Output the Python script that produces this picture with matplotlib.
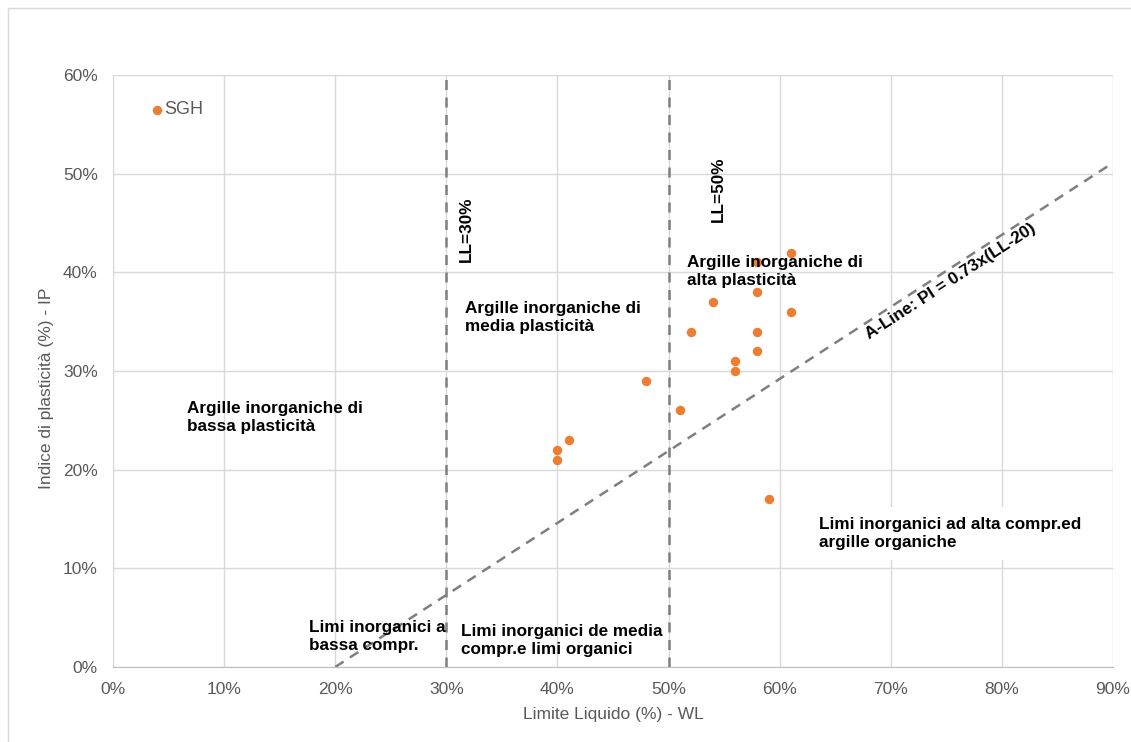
import matplotlib.pyplot as plt
from matplotlib.patches import Rectangle
from matplotlib.ticker import FuncFormatter, MultipleLocator

# data (LL %, PI %)
ll = [4, 40, 40, 41, 48, 51, 52, 54, 56, 56, 58, 58, 58, 58, 61, 61, 59]
pi = [56.5, 22, 21, 23, 29, 26, 34, 37, 31, 30, 41, 38, 34, 32, 42, 36, 17]
point_label = "SGH"

aline_ll = [20, 90]
aline_pi = [0.73 * (v - 20) for v in aline_ll]
ll_limits = [30, 50]

plt.rcParams['font.family'] = ['Liberation Sans', 'DejaVu Sans']

fig = plt.figure(figsize=(11.31, 7.42), dpi=100)
ax = fig.add_axes([113 / 1131, 1 - 667 / 742, 1000 / 1131, 592 / 742])

# chart area border
fig.patches.append(Rectangle((8 / 1131, -0.1), 1.2, 1 - 8 / 742 + 0.1, transform=fig.transFigure,
                             fill=False, edgecolor='#d9d9d9', linewidth=1))

ax.set_xlim(0, 90)
ax.set_ylim(0, 60)
ax.xaxis.set_major_locator(MultipleLocator(10))
ax.yaxis.set_major_locator(MultipleLocator(10))
pct = FuncFormatter(lambda v, p: f"{v:.0f}%")
ax.xaxis.set_major_formatter(pct)
ax.yaxis.set_major_formatter(pct)
ax.grid(True, color='#d9d9d9', linewidth=1)
ax.set_axisbelow(True)
for s in ['top', 'right']:
    ax.spines[s].set_visible(False)
ax.spines['left'].set_color('#d9d9d9')
ax.spines['bottom'].set_color('#bfbfbf')
ax.tick_params(length=0, labelsize=12.5, labelcolor='#595959')
ax.tick_params(axis='y', pad=11)
ax.tick_params(axis='x', pad=11)

ax.set_xlabel("Limite Liquido (%) - WL", fontsize=12.5, color='#595959', labelpad=7)
ax.set_ylabel("Indice di plasticità (%) - IP", fontsize=12.5, color='#595959')
ax.yaxis.set_label_coords(-0.059, 0.47)

# reference lines
for v in ll_limits:
    ax.plot([v, v], [0, 60], color='#7f7f7f', linestyle=(0, (4, 3)), linewidth=1.8, zorder=2)
ax.plot(aline_ll, aline_pi, color='#7f7f7f', linestyle=(0, (4, 3)), linewidth=1.8, zorder=2)

ax.scatter(ll, pi, s=46, color='#ed7d31', zorder=4, linewidths=0)
ax.annotate(point_label, (ll[0], pi[0]), xytext=(5, 0), textcoords='offset points',
            va='center', ha='left', fontsize=13, color='#595959')

fs = 12.3
tk = dict(fontsize=fs, fontweight='bold', color='black', va='top', ha='left', linespacing=1.28, zorder=5)
ax.text(6.7, 27.0, "Argille inorganiche di\nbassa plasticità", **tk)
ax.text(31.7, 37.1, "Argille inorganiche di\nmedia plasticità", **tk)
ax.text(51.7, 41.8, "Argille inorganiche di\nalta plasticità", **tk)
ax.text(17.6, 4.8, "Limi inorganici a\nbassa compr.", **tk)
ax.text(31.3, 4.4, "Limi inorganici de media\ncompr.e limi organici", **tk)
ax.text(63.5, 15.2, "Limi inorganici ad alta compr.ed\nargille organiche",
        bbox=dict(facecolor='white', edgecolor='none', pad=7), **tk)

ax.text(31.8, 41.0, "LL=30%", rotation=90, fontsize=fs, fontweight='bold', ha='center', va='bottom')
ax.text(54.5, 45.1, "LL=50%", rotation=90, fontsize=fs, fontweight='bold', ha='center', va='bottom')
ax.text(75.4, 39.1, "A-Line: PI = 0.73x(LL-20)", rotation=33, rotation_mode='anchor',
        fontsize=fs, fontweight='bold', ha='center', va='center')

fig.savefig("out.png", dpi=100)
